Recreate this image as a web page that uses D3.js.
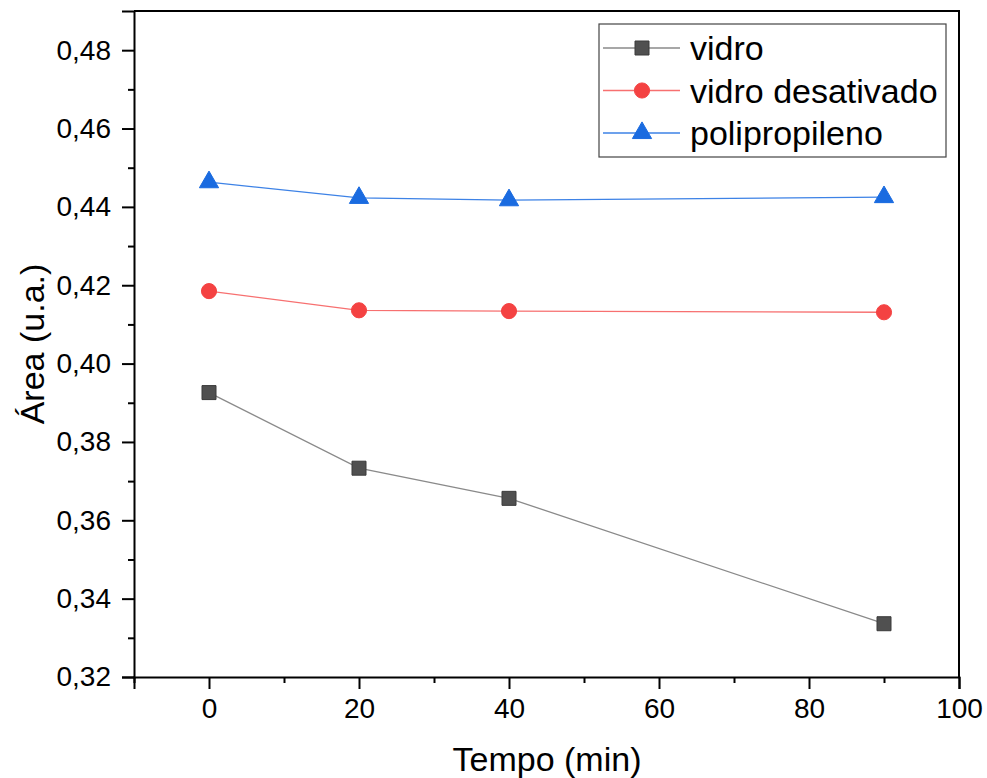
<!DOCTYPE html>
<html>
<head>
<meta charset="utf-8">
<script src="https://cdn.jsdelivr.net/npm/d3@7"></script>
<style>
  html, body { margin: 0; padding: 0; background: #fff; }
  svg { display: block; font-family: Arial, "Liberation Sans", sans-serif; }
</style>
</head>
<body>
<svg id="chart" width="987" height="778"></svg>
<script>
// Sampling times (min)
const tempo = [0, 20, 40, 90];
// Peak area per container type (u.a.)
const vidro = [0.3926, 0.3733, 0.3656, 0.3336];
const vidroDesativado = [0.4185, 0.4136, 0.4134, 0.4131];
const polipropileno = [0.4463, 0.4423, 0.4417, 0.4425];

const seriesNames = ["vidro", "vidro desativado", "polipropileno"];
const xTicks = [0, 20, 40, 60, 80, 100];
const yTicks = [0.32, 0.34, 0.36, 0.38, 0.40, 0.42, 0.44, 0.46, 0.48];

const series = [
  { name: seriesNames[0], values: vidro, line: "#8a8a8a", fill: "#505050", stroke: "#3a3a3a", symbol: d3.symbolSquare, size: 196 },
  { name: seriesNames[1], values: vidroDesativado, line: "#f77070", fill: "#f44242", stroke: "#f44242", symbol: d3.symbolCircle, size: 180 },
  { name: seriesNames[2], values: polipropileno, line: "#3d82e6", fill: "#1a6be0", stroke: "#1a6be0", symbol: d3.symbolTriangle, size: 160 }
];

const svg = d3.select("#chart");
const plot = { left: 134, right: 959, top: 11, bottom: 677 };

const x = d3.scaleLinear().domain([-10, 100]).range([plot.left, plot.right]);
const y = d3.scaleLinear().domain([0.32, 0.49]).range([plot.bottom, plot.top]);

const fmt = d => d3.format(".2f")(d).replace(".", ",");

// Frame: top and right edges
svg.append("path")
  .attr("d", `M${plot.left},${plot.top}H${plot.right}V${plot.bottom}`)
  .attr("fill", "none").attr("stroke", "#000").attr("stroke-width", 2);

// Minor ticks
const xMinor = d3.range(-10, 100, 10).filter(v => !xTicks.includes(v));
const yMinor = d3.range(0.33, 0.49, 0.02);

const xAxis = svg.append("g").attr("transform", `translate(0,${plot.bottom})`)
  .call(d3.axisBottom(x).tickValues(xTicks).tickSize(12).tickPadding(9).tickFormat(d3.format("d")));
const xAxisMinor = svg.append("g").attr("transform", `translate(0,${plot.bottom})`)
  .call(d3.axisBottom(x).tickValues(xMinor).tickSize(6).tickFormat(""));
const yAxis = svg.append("g").attr("transform", `translate(${plot.left},0)`)
  .call(d3.axisLeft(y).tickValues(yTicks).tickSize(12).tickPadding(11).tickFormat(fmt));
const yAxisMinor = svg.append("g").attr("transform", `translate(${plot.left},0)`)
  .call(d3.axisLeft(y).tickValues(yMinor).tickSize(6).tickFormat(""));

[xAxis, xAxisMinor, yAxis, yAxisMinor].forEach(g => {
  g.select(".domain").attr("stroke", "#000").attr("stroke-width", 2);
  g.selectAll(".tick line").attr("stroke", "#000").attr("stroke-width", 2);
  g.selectAll(".tick text").attr("fill", "#000").style("font-size", "28px")
    .style("font-family", "Arial, 'Liberation Sans', sans-serif");
});
xAxisMinor.select(".domain").remove();
yAxisMinor.select(".domain").remove();

// Axis titles
svg.append("text")
  .attr("x", 547).attr("y", 771)
  .attr("text-anchor", "middle").style("font-size", "34px").attr("fill", "#000")
  .text("Tempo (min)");
svg.append("text")
  .attr("transform", `translate(44,344) rotate(-90)`)
  .attr("text-anchor", "middle").style("font-size", "34px").attr("fill", "#000")
  .text("Área (u.a.)");

// Lines and markers
const lineGen = d3.line().x((d, i) => x(tempo[i])).y(d => y(d));
series.forEach(s => {
  svg.append("path").datum(s.values)
    .attr("d", lineGen).attr("fill", "none")
    .attr("stroke", s.line).attr("stroke-width", 1.3);
  svg.selectAll(null).data(s.values).enter().append("path")
    .attr("transform", (d, i) => `translate(${x(tempo[i])},${y(d)})`)
    .attr("d", d3.symbol().type(s.symbol).size(s.size))
    .attr("fill", s.fill).attr("stroke", s.stroke).attr("stroke-width", 1);
});

// Legend
const lg = svg.append("g");
lg.append("rect").attr("x", 599).attr("y", 24).attr("width", 347).attr("height", 133)
  .attr("fill", "#fff").attr("stroke", "#444").attr("stroke-width", 1.2);
series.forEach((s, i) => {
  const cy = 48 + i * 42.5;
  lg.append("line").attr("x1", 603).attr("x2", 680).attr("y1", cy).attr("y2", cy)
    .attr("stroke", s.line).attr("stroke-width", 1.3);
  lg.append("path").attr("transform", `translate(642,${cy})`)
    .attr("d", d3.symbol().type(s.symbol).size(s.size))
    .attr("fill", s.fill).attr("stroke", s.stroke).attr("stroke-width", 1);
  lg.append("text").attr("x", 690).attr("y", cy + 12)
    .style("font-size", "34px").attr("fill", "#000").text(s.name);
});
</script>
</body>
</html>
